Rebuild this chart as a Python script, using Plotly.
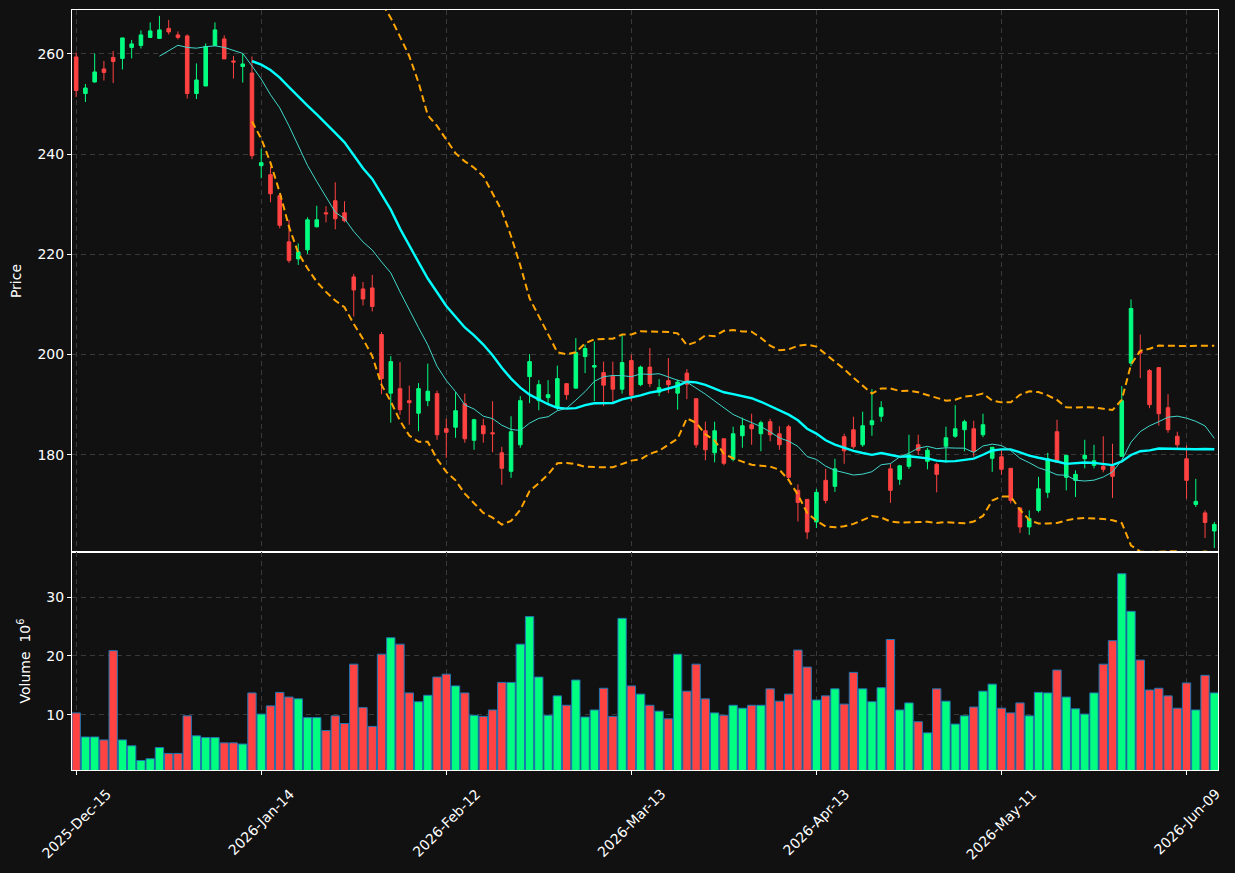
import pandas as pd
import plotly.graph_objects as go

# ---------------- data ----------------
opens = [259.4, 252.1, 254.4, 257.0, 259.3, 259.1, 261.3, 261.7, 263.3, 263.1,
         265.1, 263.8, 263.6, 252.1, 253.6, 261.7, 263.0, 258.6, 257.5, 256.2,
         237.7, 235.9, 231.7, 222.5, 219.1, 220.9, 225.5, 228.3, 230.7, 228.3,
         215.5, 213.1, 213.3, 204.0, 192.3, 193.2, 190.8, 188.3, 190.8, 192.2,
         185.2, 185.5, 190.2, 182.9, 185.8, 184.4, 180.4, 176.7, 182.0, 195.6,
         190.8, 191.4, 189.5, 194.2, 193.3, 199.6, 197.5, 196.4, 195.7, 193.1,
         198.8, 194.0, 197.5, 192.5, 194.8, 192.3, 196.3, 191.2, 184.8, 180.4,
         183.2, 179.1, 183.8, 186.0, 184.2, 186.6, 184.2, 185.6, 172.9, 171.1,
         166.6, 174.9, 173.7, 183.6, 185.0, 182.0, 186.0, 187.7, 177.2, 175.1,
         177.7, 182.0, 178.7, 178.1, 181.7, 183.7, 185.0, 185.2, 184.0, 179.3,
         179.6, 177.3, 169.4, 165.6, 168.9, 172.5, 184.6, 175.5, 174.9, 179.2,
         177.9, 177.7, 177.7, 179.7, 198.3, 200.6, 196.8, 197.4, 189.4, 183.7,
         179.2, 170.1, 168.4, 164.8]
highs = [260.3, 254.0, 260.1, 258.6, 260.6, 263.2, 262.8, 264.7, 266.3, 267.6,
         266.8, 264.5, 263.9, 258.1, 262.1, 266.3, 263.7, 259.6, 260.1, 259.5,
         241.1, 237.5, 231.7, 226.9, 222.2, 227.4, 229.7, 229.6, 234.4, 230.6,
         216.1, 214.5, 215.9, 204.5, 199.7, 198.5, 193.8, 194.3, 198.2, 192.8,
         187.2, 192.5, 192.2, 187.2, 187.2, 190.7, 181.6, 187.7, 191.7, 200.1,
         194.9, 194.9, 197.8, 194.2, 203.3, 202.0, 202.6, 198.6, 198.6, 204.0,
         200.0, 197.8, 201.3, 195.1, 199.3, 195.0, 197.1, 191.2, 186.6, 186.6,
         183.2, 185.6, 187.4, 188.2, 186.8, 187.2, 185.7, 186.0, 174.1, 171.1,
         173.2, 177.2, 179.2, 184.2, 187.6, 188.6, 193.1, 190.7, 178.2, 178.0,
         184.0, 184.0, 181.4, 178.4, 185.6, 189.9, 187.0, 186.8, 188.2, 181.5,
         181.2, 177.3, 169.4, 168.9, 175.6, 180.4, 187.0, 179.9, 176.9, 183.0,
         182.0, 183.7, 182.2, 193.7, 211.0, 204.0, 197.1, 197.4, 192.1, 184.6,
         181.9, 175.2, 168.9, 166.6]
lows = [251.4, 250.4, 254.3, 254.7, 254.2, 256.9, 259.1, 261.1, 263.3, 263.1,
        263.9, 262.9, 251.1, 251.0, 253.6, 261.7, 259.0, 255.1, 254.3, 239.0,
        235.2, 230.4, 225.2, 218.3, 217.9, 220.1, 225.4, 226.4, 225.0, 226.4,
        207.6, 209.8, 208.6, 192.1, 186.4, 188.0, 186.0, 184.7, 189.7, 183.0,
        179.4, 183.4, 182.4, 181.0, 182.4, 180.5, 174.0, 175.4, 181.4, 190.3,
        188.9, 190.1, 188.9, 191.0, 193.3, 196.3, 190.7, 189.7, 190.3, 192.2,
        190.7, 193.7, 193.5, 191.7, 192.3, 189.0, 191.1, 181.4, 178.9, 178.5,
        177.9, 178.7, 181.4, 182.0, 180.7, 182.7, 181.0, 175.0, 166.7, 163.2,
        165.4, 170.3, 172.6, 178.2, 181.2, 181.6, 183.8, 186.6, 170.4, 174.0,
        177.2, 180.0, 177.1, 172.5, 178.4, 183.4, 180.7, 179.6, 183.5, 176.6,
        176.0, 170.3, 164.4, 164.0, 168.5, 171.4, 178.5, 172.9, 171.6, 177.3,
        177.3, 176.5, 171.4, 179.7, 197.7, 195.3, 189.3, 185.8, 184.4, 181.4,
        171.2, 169.6, 163.4, 161.4]
closes = [252.7, 253.2, 256.4, 256.3, 258.5, 263.2, 262.0, 263.8, 264.6, 264.8,
          264.4, 263.3, 252.1, 254.8, 261.5, 264.8, 259.0, 258.4, 258.0, 239.7,
          238.3, 232.1, 225.8, 218.8, 220.5, 226.9, 226.9, 228.1, 227.1, 226.7,
          212.9, 211.1, 209.6, 195.2, 198.6, 189.0, 190.4, 193.2, 192.7, 184.0,
          184.5, 188.8, 183.2, 187.0, 184.2, 184.2, 177.3, 184.6, 190.8, 198.6,
          194.0, 192.0, 195.2, 192.0, 200.4, 201.2, 197.8, 193.9, 193.1, 198.4,
          191.9, 197.5, 194.2, 193.4, 194.0, 194.5, 194.1, 182.0, 181.0, 184.8,
          178.3, 184.2, 185.8, 185.2, 186.4, 184.0, 182.0, 175.5, 170.5, 164.6,
          172.5, 170.9, 177.2, 180.8, 181.6, 185.8, 186.8, 189.4, 172.9, 177.8,
          180.0, 180.9, 180.9, 176.1, 183.4, 185.2, 186.6, 180.7, 186.0, 181.5,
          177.1, 170.9, 165.6, 167.3, 173.2, 179.2, 178.5, 179.9, 176.1, 179.9,
          178.8, 177.1, 175.7, 190.8, 209.2, 200.3, 190.0, 188.2, 185.0, 182.0,
          174.9, 170.7, 166.5, 166.1]
volumes = [10.3, 6.2, 6.2, 5.7, 20.9, 5.7, 4.7, 2.2, 2.5, 4.4,
           3.4, 3.4, 9.8, 6.4, 6.1, 6.1, 5.2, 5.2, 5.0, 13.7,
           10.1, 11.5, 13.8, 13.0, 12.7, 9.5, 9.5, 7.3, 9.8, 8.5,
           18.6, 11.2, 8.0, 20.3, 23.1, 22.0, 13.7, 12.2, 13.3, 16.4,
           16.9, 14.9, 13.7, 9.9, 9.7, 10.8, 15.5, 15.5, 22.0, 26.7,
           16.4, 9.9, 13.2, 11.6, 15.9, 9.6, 10.8, 14.5, 9.7, 26.4,
           14.9, 13.5, 11.6, 10.6, 9.3, 20.3, 14.0, 18.6, 12.7, 10.3,
           9.9, 11.6, 11.1, 11.6, 11.6, 14.4, 12.3, 13.5, 21.0, 18.1,
           12.5, 13.2, 14.4, 11.8, 17.2, 14.4, 12.2, 14.6, 22.8, 10.8,
           12.0, 8.8, 6.9, 14.4, 12.3, 8.4, 9.8, 11.3, 14.0, 15.2,
           11.1, 10.3, 12.0, 9.8, 13.8, 13.7, 17.6, 13.0, 11.0, 10.1,
           13.7, 18.6, 22.6, 34.0, 27.6, 19.3, 14.2, 14.5, 13.2, 11.1,
           15.4, 10.8, 16.7, 13.7]
tick_labels = ["2025-Dec-15", "2026-Jan-14", "2026-Feb-12", "2026-Mar-13",
               "2026-Apr-13", "2026-May-11", "2026-Jun-09"]
tick_every = 20
price_ticks = [180, 200, 220, 240, 260]
volume_ticks = [10, 20, 30]

# ---------------- derived series ----------------
x = list(range(len(closes)))
tick_pos = x[::tick_every]
s = pd.Series(closes)
ma10 = s.rolling(10).mean()
ma20 = s.rolling(20).mean()
sd20 = s.rolling(20).std(ddof=0)
upper = ma20 + 2 * sd20
lower = ma20 - 2 * sd20

UP = "#00ff80"
DOWN = "#ff4242"
BG = "#111111"
GRID = "#3a3a3a"
vol_colors = [UP if c >= o else DOWN for o, c in zip(opens, closes)]

W, H = 1235, 873
xdom = [72 / W, 1218 / W]
ydom_main = [1 - 552 / H, 1 - 10 / H]
ydom_vol = [1 - 770 / H, 1 - 552 / H]
xr = [-0.45, 123.4]

fig = go.Figure()
fig.add_trace(go.Candlestick(
    x=x, open=opens, high=highs, low=lows, close=closes,
    increasing=dict(line=dict(color=UP, width=1), fillcolor=UP),
    decreasing=dict(line=dict(color=DOWN, width=1), fillcolor=DOWN),
    whiskerwidth=0, xaxis="x", yaxis="y", showlegend=False, hoverinfo="skip"))
for band in (upper, lower):
    fig.add_trace(go.Scatter(x=x, y=band, mode="lines", xaxis="x", yaxis="y",
                             line=dict(color="#ffa500", width=2, dash="7px,4px"),
                             showlegend=False, hoverinfo="skip"))
fig.add_trace(go.Scatter(x=x, y=ma20, mode="lines", xaxis="x", yaxis="y",
                         line=dict(color="#00ffff", width=2.4),
                         showlegend=False, hoverinfo="skip"))
fig.add_trace(go.Scatter(x=x, y=ma10, mode="lines", xaxis="x", yaxis="y",
                         line=dict(color="#40d8cc", width=1),
                         showlegend=False, hoverinfo="skip"))
fig.add_trace(go.Bar(x=x, y=volumes, width=0.9, xaxis="x2", yaxis="y2",
                     marker=dict(color=vol_colors, line=dict(color="#1f77b4", width=1)),
                     showlegend=False, hoverinfo="skip"))

axis_common = dict(showline=True, mirror=True, linecolor="white", linewidth=1,
                   showgrid=True, gridcolor=GRID, griddash="5px,4px", gridwidth=1,
                   zeroline=False, ticklen=4, tickcolor="white",
                   tickfont=dict(color="white", size=14))

# x tick labels centred under their ticks, rotated 45 degrees (as real text)
annotations = [
    dict(x=p, y=1 - 783 / H, xref="x2", yref="paper", text=lab, textangle=-45,
         showarrow=False, xanchor="center", yanchor="top",
         font=dict(family="DejaVu Sans", size=14, color="white"))
    for p, lab in zip(tick_pos, tick_labels)
]

fig.update_layout(
    width=W, height=H,
    margin=dict(l=0, r=0, t=0, b=0, autoexpand=False),
    paper_bgcolor=BG, plot_bgcolor=BG,
    font=dict(family="DejaVu Sans", color="white", size=14),
    boxgap=0.45,
    bargap=0.1,
    annotations=annotations,
    xaxis=dict(domain=xdom, anchor="y", range=xr, tickvals=tick_pos,
               showticklabels=False, rangeslider=dict(visible=False),
               matches="x2", ticks="", **axis_common),
    yaxis=dict(domain=ydom_main, anchor="x", range=[160.6, 268.77], tickvals=price_ticks,
               ticks="outside",
               title=dict(text="Price", standoff=12, font=dict(size=14, color="white")),
               **axis_common),
    xaxis2=dict(domain=xdom, anchor="y2", range=xr, tickvals=tick_pos,
                showticklabels=False, ticks="outside", **axis_common),
    yaxis2=dict(domain=ydom_vol, anchor="x2", range=[0.58, 37.7], tickvals=volume_ticks,
                ticks="outside",
                title=dict(text="Volume  10<sup>6</sup>", standoff=12, font=dict(size=14, color="white")),
                **axis_common),
)

fig.write_html("out.html")
